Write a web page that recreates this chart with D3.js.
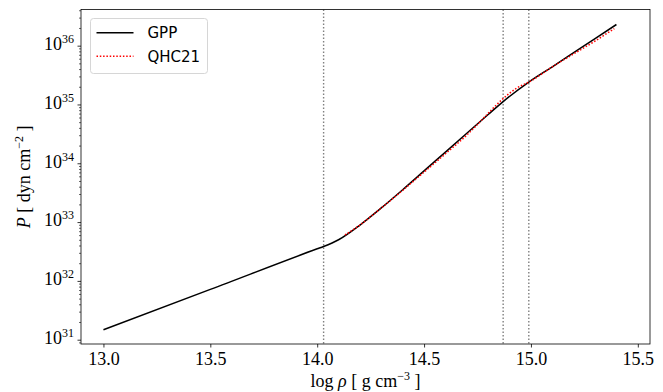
<!DOCTYPE html>
<html>
<head>
<meta charset="utf-8">
<script src="https://cdn.jsdelivr.net/npm/d3@7"></script>
<style>
  html, body { margin: 0; padding: 0; background: #fff; }
  svg { display: block; }
</style>
</head>
<body>
<svg id="chart" width="663" height="392"></svg>
<script>
// Equation of state: pressure versus log density
const rhoGPP = [13.0, 13.5, 14.0, 14.03, 14.1, 14.2, 14.3, 14.4, 14.5, 14.6, 14.7, 14.8, 14.87, 14.99, 15.1, 15.2, 15.3, 15.4];
const pressureGPP = [1.48e31, 7.16e31, 3.51e32, 3.85e32, 5.01e32, 8.91e32, 1.74e33, 3.55e33, 7.41e33, 1.55e34, 3.24e34, 6.76e34, 1.12e35, 2.40e35, 4.37e35, 7.59e35, 1.32e36, 2.29e36];

const rhoQHC = [14.13, 14.2, 14.3, 14.4, 14.5, 14.6, 14.7, 14.75, 14.8, 14.87, 14.93, 15.0, 15.1, 15.2, 15.3, 15.39];
const pressureQHC = [6.03e32, 8.91e32, 1.74e33, 3.47e33, 7.08e33, 1.45e34, 3.02e34, 4.57e34, 7.08e34, 1.26e35, 1.86e35, 2.51e35, 4.37e35, 7.24e35, 1.20e36, 1.95e36];

// Density thresholds marked with vertical guides
const thresholds = [14.03, 14.87, 14.99];

const xTicks = [13.0, 13.5, 14.0, 14.5, 15.0, 15.5];
const yTickExponents = [31, 32, 33, 34, 35, 36];

const seriesNames = ["GPP", "QHC21"];

const svg = d3.select("#chart");
const plot = { left: 81, right: 650, top: 9.5, bottom: 344 };

const x = d3.scaleLinear().domain([12.895, 15.557]).range([plot.left, plot.right]);
const y = d3.scaleLog().domain([8.45e30, 4.12e36]).range([plot.bottom, plot.top]);

const serif = "'Liberation Serif', 'DejaVu Serif', serif";
const sans = "'DejaVu Sans', sans-serif";

svg.append("defs").append("clipPath").attr("id", "plot-clip")
  .append("rect")
  .attr("x", plot.left).attr("y", plot.top)
  .attr("width", plot.right - plot.left).attr("height", plot.bottom - plot.top);

// Vertical threshold guides
svg.append("g").attr("clip-path", "url(#plot-clip)")
  .selectAll("line").data(thresholds).join("line")
  .attr("x1", d => x(d)).attr("x2", d => x(d))
  .attr("y1", plot.top).attr("y2", plot.bottom)
  .attr("stroke", "#808080").attr("stroke-width", 1.4)
  .attr("stroke-dasharray", "1.4,2.1");

const line = d3.line().curve(d3.curveMonotoneX)
  .x(d => x(d[0])).y(d => y(d[1]));

const gppData = rhoGPP.map((r, i) => [r, pressureGPP[i]]);
const qhcData = rhoQHC.map((r, i) => [r, pressureQHC[i]]);

const curves = svg.append("g").attr("clip-path", "url(#plot-clip)");
curves.append("path").datum(gppData)
  .attr("d", line).attr("fill", "none")
  .attr("stroke", "#000").attr("stroke-width", 1.5)
  .attr("stroke-linejoin", "round");
curves.append("path").datum(qhcData)
  .attr("d", line).attr("fill", "none")
  .attr("stroke", "#ff0000").attr("stroke-width", 1.5)
  .attr("stroke-dasharray", "1.5,1.8");

// X axis
const xAxis = svg.append("g")
  .attr("transform", `translate(0,${plot.bottom})`)
  .call(d3.axisBottom(x).tickValues(xTicks).tickFormat(d3.format(".1f"))
    .tickSize(3.5).tickPadding(3.5).tickSizeOuter(0));
xAxis.select(".domain").remove();
xAxis.selectAll(".tick line").attr("stroke", "#000").attr("stroke-width", 0.8);
xAxis.selectAll(".tick text")
  .attr("font-family", serif).attr("font-size", 18).attr("fill", "#000")
  .attr("dy", "0.78em");

// Y axis: minor ticks
const minorTicks = y.ticks(60).filter(v => {
  const e = Math.log10(v);
  return Math.abs(e - Math.round(e)) > 1e-6;
});
const yMinor = svg.append("g")
  .attr("transform", `translate(${plot.left},0)`)
  .call(d3.axisLeft(y).tickValues(minorTicks).tickFormat("").tickSize(2).tickSizeOuter(0));
yMinor.select(".domain").remove();
yMinor.selectAll(".tick line").attr("stroke", "#000").attr("stroke-width", 0.6);

// Y axis: major ticks with power-of-ten labels
const majorValues = yTickExponents.map(e => Math.pow(10, e));
const yMajor = svg.append("g")
  .attr("transform", `translate(${plot.left},0)`)
  .call(d3.axisLeft(y).tickValues(majorValues).tickFormat("").tickSize(3.5).tickSizeOuter(0));
yMajor.select(".domain").remove();
yMajor.selectAll(".tick line").attr("stroke", "#000").attr("stroke-width", 0.8);
yMajor.selectAll(".tick").each(function(d, i) {
  const t = d3.select(this).append("text")
    .attr("x", -7).attr("y", 0).attr("dy", "0.38em")
    .attr("text-anchor", "end")
    .attr("font-family", serif).attr("fill", "#000");
  t.append("tspan").attr("font-size", 18).text("10");
  t.append("tspan").attr("font-size", 12).attr("dy", -7).text(yTickExponents[i]);
});

// Frame
svg.append("rect")
  .attr("x", plot.left).attr("y", plot.top)
  .attr("width", plot.right - plot.left).attr("height", plot.bottom - plot.top)
  .attr("fill", "none").attr("stroke", "#000").attr("stroke-width", 0.8);

// Axis titles
const xTitle = svg.append("text")
  .attr("x", (plot.left + plot.right) / 2).attr("y", 387)
  .attr("text-anchor", "middle")
  .attr("font-family", serif).attr("font-size", 18).attr("fill", "#000");
xTitle.append("tspan").text("log ");
xTitle.append("tspan").attr("font-style", "italic").text("ρ");
xTitle.append("tspan").text(" [ g cm");
xTitle.append("tspan").attr("font-size", 12).attr("dy", -7).text("−3");
xTitle.append("tspan").attr("dy", 7).text(" ]");

const yTitle = svg.append("text")
  .attr("transform", `translate(30,${(plot.top + plot.bottom) / 2}) rotate(-90)`)
  .attr("text-anchor", "middle")
  .attr("font-family", serif).attr("font-size", 18).attr("fill", "#000");
yTitle.append("tspan").attr("font-style", "italic").text("P");
yTitle.append("tspan").text(" [ dyn cm");
yTitle.append("tspan").attr("font-size", 12).attr("dy", -7).text("−2");
yTitle.append("tspan").attr("dy", 7).text(" ]");

// Legend
const legend = svg.append("g");
legend.append("rect")
  .attr("x", 90.5).attr("y", 18.5).attr("width", 117).attr("height", 55)
  .attr("rx", 3).attr("fill", "#fff").attr("fill-opacity", 0.8)
  .attr("stroke", "#d6d6d6").attr("stroke-width", 1);
const legendStyles = [
  { color: "#000", dash: null },
  { color: "#ff0000", dash: "1.5,1.8" }
];
seriesNames.forEach((name, i) => {
  const yy = 32.7 + i * 23.5;
  legend.append("line")
    .attr("x1", 96.5).attr("x2", 133.5).attr("y1", yy).attr("y2", yy)
    .attr("stroke", legendStyles[i].color).attr("stroke-width", 1.5)
    .attr("stroke-dasharray", legendStyles[i].dash);
  legend.append("text")
    .attr("x", 147.5).attr("y", yy).attr("dy", "0.36em")
    .attr("font-family", sans).attr("font-size", 15).attr("fill", "#000")
    .text(name);
});
</script>
</body>
</html>
